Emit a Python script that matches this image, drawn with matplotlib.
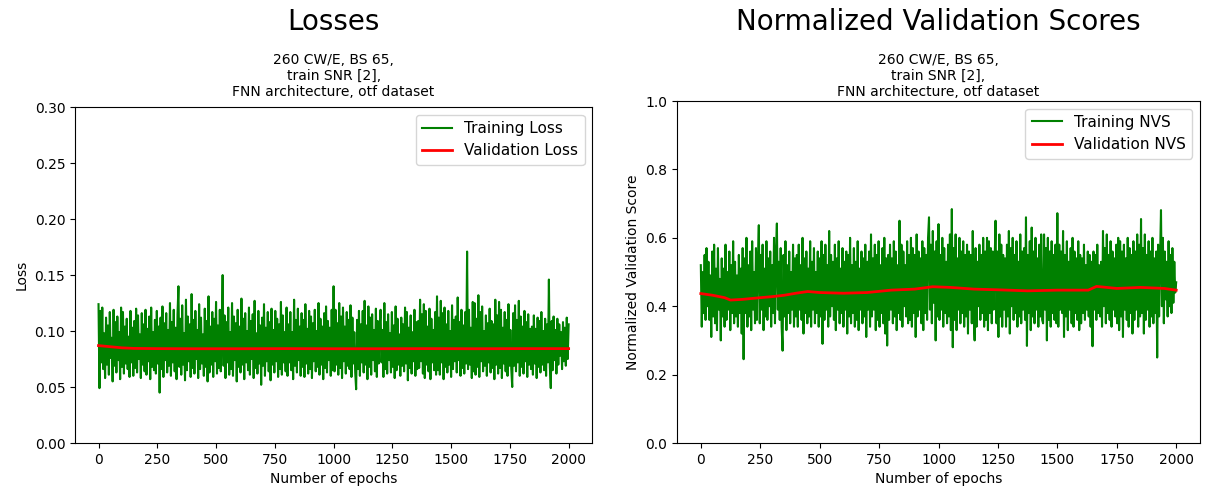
import numpy as np
import matplotlib
matplotlib.use("Agg")
import matplotlib.pyplot as plt

train_loss_milli = [
    124, 49, 118, 72, 121, 66, 98, 58, 112, 70, 105, 61, 117, 76, 94, 55, 119, 69, 108, 63,
    113, 74, 99, 57, 121, 68, 117, 62, 104, 71, 111, 66, 95, 59, 118, 72, 103, 60, 109, 67,
    120, 63, 114, 75, 97, 58, 116, 70, 106, 64, 119, 61, 102, 73, 113, 57, 121, 68, 99, 65,
    110, 62, 118, 71, 104, 45, 112, 66, 122, 59, 107, 74, 116, 63, 101, 69, 125, 60, 108, 72,
    119, 64, 103, 57, 115, 140, 68, 111, 61, 123, 70, 98, 56, 128, 65, 113, 73, 106, 59, 133,
    67, 110, 62, 118, 75, 101, 58, 124, 66, 112, 71, 97, 60, 120, 68, 109, 55, 131, 63, 104,
    70, 117, 59, 111, 73, 126, 62, 105, 67, 119, 64, 102, 150, 69, 114, 58, 108, 72, 121, 61,
    99, 66, 125, 60, 113, 74, 107, 55, 119, 68, 104, 63, 129, 70, 111, 57, 116, 72, 100, 65,
    121, 61, 109, 75, 115, 58, 127, 67, 98, 62, 118, 71, 105, 52, 112, 69, 124, 60, 103, 73,
    117, 64, 108, 56, 120, 70, 101, 63, 118, 73, 111, 59, 106, 66, 126, 61, 114, 72, 99, 64,
    121, 60, 106, 72, 117, 65, 99, 57, 128, 69, 110, 63, 120, 74, 104, 60, 116, 68, 110, 59,
    124, 71, 102, 62, 118, 66, 113, 58, 107, 73, 119, 64, 100, 68, 125, 61, 111, 70, 104, 57,
    116, 67, 122, 63, 109, 74, 103, 60, 119, 65, 140, 64, 119, 70, 107, 61, 125, 67, 113, 58,
    121, 73, 104, 62, 117, 69, 110, 66, 123, 59, 112, 71, 99, 63, 48, 110, 66, 118, 60, 106,
    72, 118, 63, 127, 70, 105, 57, 122, 68, 112, 61, 115, 74, 101, 64, 120, 59, 109, 71, 103,
    119, 72, 101, 59, 125, 66, 108, 62, 115, 74, 98, 63, 117, 68, 105, 58, 122, 65, 111, 70,
    97, 60, 112, 69, 106, 64, 121, 71, 117, 56, 103, 67, 114, 62, 99, 73, 119, 60, 108, 66,
    109, 67, 128, 73, 115, 62, 124, 58, 118, 70, 104, 64, 120, 57, 111, 72, 101, 65, 117, 61,
    131, 65, 112, 61, 127, 72, 116, 57, 121, 68, 106, 63, 118, 70, 100, 59, 123, 66, 110, 73,
    113, 63, 130, 74, 108, 60, 119, 67, 105, 62, 117, 71, 171, 66, 119, 70, 103, 58, 126, 64,
    125, 61, 111, 68, 132, 59, 117, 73, 122, 64, 100, 69, 114, 60, 107, 72, 120, 63, 109, 67,
    106, 57, 128, 70, 114, 62, 126, 67, 119, 58, 103, 71, 117, 64, 110, 60, 124, 69, 101, 66,
    50, 116, 69, 123, 64, 110, 72, 127, 60, 113, 68, 104, 62, 118, 73, 108, 59, 115, 70, 102,
    66, 104, 61, 114, 71, 102, 58, 112, 68, 109, 63, 117, 70, 100, 65, 111, 60, 106, 72, 146,
    68, 49, 109, 65, 113, 74, 101, 62, 111, 70, 106, 78, 99, 66, 108, 73, 103, 69, 112, 75, 106,
]

val_loss_epochs = [0, 25, 50, 75, 100, 150, 250, 400, 600, 800, 1000, 1200, 1400, 1600, 1800, 2000]
val_loss = [0.087, 0.0865, 0.086, 0.0855, 0.085, 0.0845, 0.0843, 0.0842, 0.0842, 0.0843,
            0.0842, 0.0842, 0.0843, 0.0842, 0.0843, 0.0843]

train_nvs_milli = [
    520, 340, 500, 380, 550, 360, 570, 400, 530, 360, 490, 310, 560, 370, 580, 350, 510, 330, 570, 390,
    480, 300, 540, 370, 510, 340, 580, 360, 500, 390, 560, 330, 520, 380, 590, 350, 530, 370, 490, 340,
    550, 380, 510, 320, 570, 245, 540, 380, 600, 340, 520, 370, 560, 330, 590, 390, 500, 350, 570, 360,
    530, 637, 350, 550, 390, 580, 330, 510, 370, 590, 360, 540, 400, 560, 340, 520, 380, 600, 350, 550,
    642, 390, 530, 360, 570, 340, 270, 550, 370, 590, 330, 520, 380, 560, 350, 500, 390, 580, 340, 540,
    370, 550, 340, 580, 390, 520, 360, 600, 320, 540, 380, 560, 350, 510, 370, 590, 340, 530, 390, 570,
    350, 500, 380, 560, 340, 540, 370, 590, 290, 550, 360, 580, 390, 520, 340, 620, 370, 550, 400, 530,
    360, 580, 330, 540, 390, 590, 350, 510, 380, 570, 340, 530, 390, 560, 320, 550, 370, 600, 350, 520,
    380, 570, 340, 530, 360, 590, 330, 510, 390, 560, 350, 540, 370, 580, 310, 530, 390, 560, 340, 610,
    370, 540, 390, 580, 330, 550, 360, 590, 340, 520, 380, 570, 350, 600, 320, 540, 285, 550, 360, 580,
    390, 540, 350, 590, 370, 560, 330, 520, 380, 650, 360, 580, 340, 560, 400, 520, 370, 590, 350, 550,
    360, 600, 340, 570, 380, 550, 310, 610, 370, 560, 390, 540, 350, 590, 330, 570, 380, 550, 360, 600,
    660, 390, 580, 350, 620, 410, 560, 300, 590, 370, 640, 360, 550, 390, 600, 340, 570, 380, 530, 350,
    580, 370, 610, 330, 684, 280, 570, 360, 610, 330, 540, 390, 600, 350, 560, 380, 590, 340, 550, 370,
    580, 320, 560, 390, 550, 350, 620, 380, 300, 570, 340, 530, 400, 580, 360, 550, 380, 600, 340, 560,
    360, 600, 330, 590, 380, 570, 350, 560, 390, 530, 650, 350, 560, 310, 610, 370, 580, 340, 550, 390,
    540, 340, 580, 370, 620, 320, 570, 400, 600, 360, 550, 380, 590, 340, 530, 370, 610, 350, 560, 390,
    570, 360, 660, 284, 550, 380, 590, 330, 630, 370, 560, 350, 600, 390, 540, 340, 580, 370, 610, 360,
    350, 610, 390, 570, 300, 600, 360, 560, 340, 590, 380, 550, 360, 580, 350, 672, 340, 580, 390, 560,
    380, 620, 310, 550, 370, 590, 330, 530, 390, 570, 350, 600, 340, 560, 380, 540, 360, 590, 330, 550,
    350, 540, 380, 580, 360, 520, 390, 560, 370, 550, 340, 530, 283, 560, 390, 550, 360, 580, 380, 520,
    370, 530, 340, 620, 400, 570, 350, 610, 380, 550, 360, 590, 340, 560, 390, 540, 370, 580, 350, 600,
    330, 590, 370, 560, 310, 580, 390, 540, 360, 600, 340, 570, 380, 550, 320, 590, 360, 560, 390, 610,
    340, 580, 370, 655, 380, 570, 320, 610, 360, 550, 390, 590, 340, 560, 370, 600, 350, 540, 380, 560,
    250, 580, 370, 540, 681, 400, 600, 350, 560, 420, 530, 370, 590, 400, 550, 380, 570, 410, 530, 440, 470,
]

val_nvs_epochs = [0, 50, 100, 125, 175, 250, 300, 350, 400, 450, 500, 600, 700, 800, 900,
                  975, 1050, 1150, 1250, 1375, 1500, 1630, 1665, 1750, 1850, 1950, 2000]
val_nvs = [0.437, 0.432, 0.425, 0.418, 0.420, 0.425, 0.428, 0.432, 0.438, 0.443, 0.440,
           0.438, 0.440, 0.447, 0.450, 0.457, 0.455, 0.450, 0.448, 0.445, 0.447, 0.447,
           0.458, 0.452, 0.455, 0.452, 0.447]

subtitle = "260 CW/E, BS 65,\ntrain SNR [2],\nFNN architecture, otf dataset"

train_loss = np.array(train_loss_milli) / 1000
train_nvs = np.array(train_nvs_milli) / 1000
epochs_loss = np.linspace(0, 2000, len(train_loss))
epochs_nvs = np.linspace(0, 2000, len(train_nvs))

fig = plt.figure(figsize=(12.06, 4.94), dpi=100)
ax1 = fig.add_axes([0.0622, 0.1032, 0.4288, 0.680])
ax2 = fig.add_axes([0.5614, 0.1032, 0.4336, 0.6923])

ax1.plot(epochs_loss, train_loss, color="green", lw=1.5, label="Training Loss")
ax1.plot(val_loss_epochs, val_loss, color="red", lw=2, label="Validation Loss")
ax1.set_ylim(0, 0.30)
ax1.set_xticks(np.arange(0, 2001, 250))
ax1.set_xlabel("Number of epochs")
ax1.set_ylabel("Loss")
ax1.legend(loc="upper right", fontsize=11)

ax2.plot(epochs_nvs, train_nvs, color="green", lw=1.5, label="Training NVS")
ax2.plot(val_nvs_epochs, val_nvs, color="red", lw=2, label="Validation NVS")
ax2.set_ylim(0, 1.0)
ax2.set_xticks(np.arange(0, 2001, 250))
ax2.set_xlabel("Number of epochs")
ax2.set_ylabel("Normalized Validation Score")
ax2.legend(loc="upper right", fontsize=11)

for ax, title in [(ax1, "Losses"), (ax2, "Normalized Validation Scores")]:
    pos = ax.get_position()
    cx = (pos.x0 + pos.x1) / 2
    fig.text(cx, 1 - 22 / 494, title, ha="center", va="center", fontsize=20)
    fig.text(cx, 1 - 76 / 494, subtitle, ha="center", va="center", fontsize=10,
             linespacing=1.2)

fig.savefig("out.png", dpi=100)
